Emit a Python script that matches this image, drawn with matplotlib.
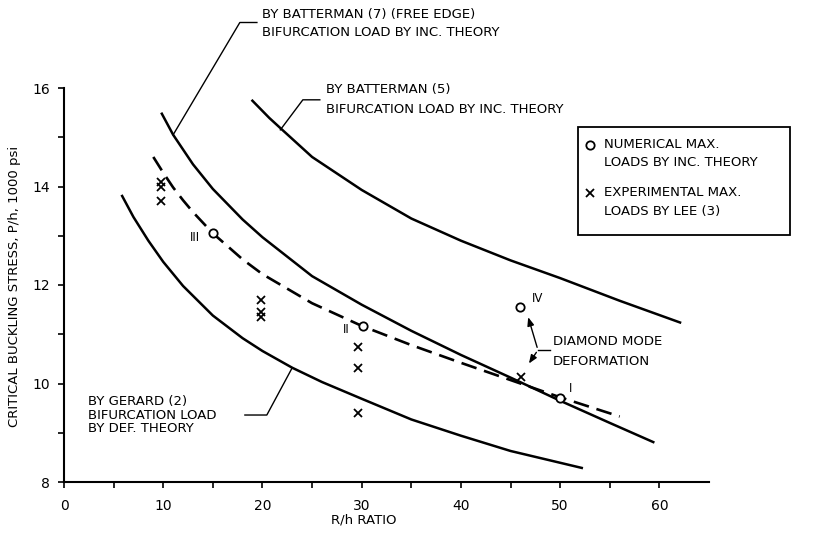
import matplotlib
matplotlib.use("Agg")
import matplotlib.pyplot as plt
from matplotlib.patches import Rectangle
from matplotlib.lines import Line2D

# --- data ---
gerard_x = [5.8, 7, 8.5, 10, 12, 15, 18, 20, 23, 26, 30, 35, 40, 45, 52.3]
gerard_y = [13.83, 13.38, 12.9, 12.47, 11.98, 11.38, 10.92, 10.66, 10.32, 10.03, 9.69, 9.27, 8.94, 8.63, 8.28]

batt7_x = [9.8, 11, 13, 15, 18, 20, 25, 30, 35, 40, 45, 50, 55, 59.5]
batt7_y = [15.5, 15.05, 14.45, 13.95, 13.33, 12.97, 12.18, 11.6, 11.07, 10.58, 10.12, 9.65, 9.2, 8.8]

batt5_x = [18.9, 20.7, 22, 25, 30, 35, 40, 45, 50, 56, 62.2]
batt5_y = [15.76, 15.39, 15.15, 14.6, 13.93, 13.35, 12.9, 12.5, 12.14, 11.68, 11.23]

incr_x = [9, 10, 11, 12, 13, 15, 18, 20, 25, 30, 35, 40, 45, 50, 56]
incr_y = [14.6, 14.28, 13.98, 13.72, 13.48, 13.05, 12.52, 12.22, 11.63, 11.17, 10.78, 10.42, 10.07, 9.72, 9.33]

num_x = [15.0, 30.1, 50.0, 46.0]
num_y = [13.05, 11.16, 9.70, 11.56]
num_labels = ["III", "II", "I", "IV"]

exp_x = [9.8, 9.8, 9.8, 19.9, 19.9, 19.9, 29.6, 29.6, 29.6, 46.1]
exp_y = [14.1, 14.0, 13.7, 11.7, 11.46, 11.36, 10.75, 10.31, 9.40, 10.14]

W, H = 813, 533
fig = plt.figure(figsize=(W / 100, H / 100), dpi=100)
ax = fig.add_axes([64 / W, 1 - 482 / H, (709 - 64) / W, (482 - 88) / H])

FS = 9.5
K = "black"

ax.plot(gerard_x, gerard_y, color=K, lw=1.8, solid_capstyle="butt", solid_joinstyle="round")
ax.plot(batt7_x, batt7_y, color=K, lw=1.8, solid_capstyle="butt", solid_joinstyle="round")
ax.plot(batt5_x, batt5_y, color=K, lw=1.8, solid_capstyle="butt", solid_joinstyle="round")
ax.plot(incr_x, incr_y, color=K, lw=1.9, linestyle=(0, (6, 3)))

ax.plot(num_x, num_y, linestyle="none", marker="o", ms=6, mfc="white", mec=K, mew=1.3, zorder=5)
ax.plot(exp_x, exp_y, linestyle="none", marker="x", ms=6, mec=K, mew=1.3, zorder=5)

# roman numerals next to the numerical points
lab_pos = {"III": (13.7, 12.96, "right"), "II": (28.8, 11.09, "right"),
           "I": (50.9, 9.9, "left"), "IV": (47.2, 11.72, "left")}
for lab in num_labels:
    lx, ly, ha = lab_pos[lab]
    ax.text(lx, ly, lab, fontsize=8.5, ha=ha, va="center")

# --- leaders and curve labels ---
lk = dict(color=K, lw=1.0, clip_on=False)
ax.plot([11.0, 17.72, 19.44], [15.05, 17.33, 17.33], **lk)
ax.text(20.0, 17.49, "BY BATTERMAN (7) (FREE EDGE)", fontsize=FS, va="center", clip_on=False)
ax.text(20.0, 17.13, "BIFURCATION LOAD BY INC. THEORY", fontsize=FS, va="center", clip_on=False)

ax.plot([21.8, 24.07, 25.78], [15.15, 15.76, 15.76], **lk)
ax.text(26.4, 15.97, "BY BATTERMAN (5)", fontsize=FS, va="center")
ax.text(26.4, 15.56, "BIFURCATION LOAD BY INC. THEORY", fontsize=FS, va="center")

ax.plot([23.0, 20.44, 18.23], [10.32, 9.36, 9.36], **lk)
ax.text(2.4, 9.63, "BY GERARD (2)", fontsize=FS, va="center")
ax.text(2.4, 9.36, "BIFURCATION LOAD", fontsize=FS, va="center")
ax.text(2.4, 9.09, "BY DEF. THEORY", fontsize=FS, va="center")

# diamond mode arrows
ax.plot([47.76, 48.94], [10.68, 10.68], color=K, lw=1.0)
arr = dict(arrowstyle="-|>,head_length=0.5,head_width=0.2", color=K, lw=1.0)
ax.annotate("", xy=(46.7, 11.40), xytext=(47.76, 10.68), arrowprops=arr)
ax.annotate("", xy=(46.7, 10.36), xytext=(47.76, 10.68), arrowprops=arr)
ax.text(49.3, 10.85, "DIAMOND MODE", fontsize=FS, va="center")
ax.text(49.3, 10.45, "DEFORMATION", fontsize=FS, va="center")

# --- axes ---
ax.set_xlim(0, 65)
ax.set_ylim(8, 16)
ax.set_xticks(range(0, 61, 10))
ax.set_xticks(range(5, 60, 10), minor=True)
ax.set_yticks(range(8, 17, 2))
ax.set_yticks(range(9, 16, 2), minor=True)
ax.spines["top"].set_visible(False)
ax.spines["right"].set_visible(False)
ax.spines["left"].set_linewidth(1.5)
ax.spines["bottom"].set_linewidth(1.5)
ax.tick_params(which="both", direction="out", length=4, width=1.2, labelsize=10, pad=6)
ax.tick_params(axis="x", pad=8)

ax.text(30.2, 7.22, "R/h RATIO", fontsize=FS, ha="center", va="center", clip_on=False)
fig.text(15 / W, 1 - 286 / H, "CRITICAL BUCKLING STRESS, P/h, 1000 psi", fontsize=FS,
         rotation=90, ha="center", va="center")

# --- legend box (figure pixel coords) ---
def fx(px):
    return px / W

def fy(py):
    return 1 - py / H

fig.patches.append(Rectangle((fx(578), fy(235)), fx(790) - fx(578), fy(127) - fy(235),
                             transform=fig.transFigure, fill=False, ec=K, lw=1.3))
fig.lines.append(Line2D([fx(590)], [fy(145)], transform=fig.transFigure, marker="o", ms=6,
                        mfc="white", mec=K, mew=1.3))
fig.lines.append(Line2D([fx(590)], [fy(193)], transform=fig.transFigure, marker="x", ms=6,
                        mec=K, mew=1.3))
fig.text(fx(604), fy(145), "NUMERICAL MAX.", fontsize=FS, va="center")
fig.text(fx(604), fy(163), "LOADS BY INC. THEORY", fontsize=FS, va="center")
fig.text(fx(604), fy(193), "EXPERIMENTAL MAX.", fontsize=FS, va="center")
fig.text(fx(604), fy(212), "LOADS BY LEE (3)", fontsize=FS, va="center")

fig.savefig("out.png", dpi=100)
